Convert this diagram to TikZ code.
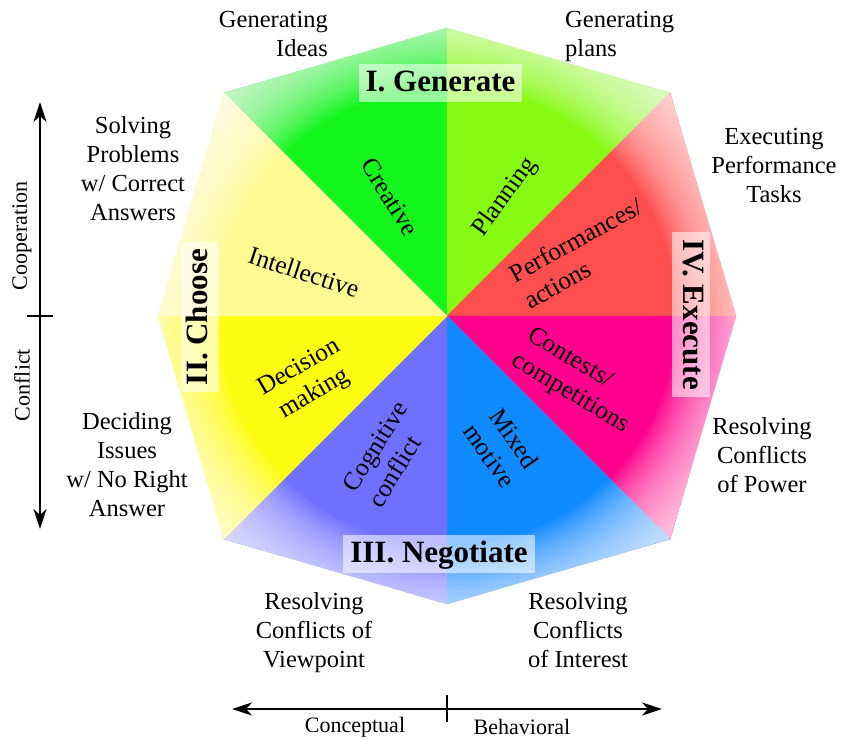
\documentclass[tikz,border=0pt]{standalone}
\usepackage{fontspec}
\setmainfont{Liberation Serif}
\usetikzlibrary{arrows.meta}

\definecolor{creativeC}{RGB}{20,245,30}
\definecolor{planningC}{RGB}{135,250,20}
\definecolor{performC}{RGB}{255,78,78}
\definecolor{contestC}{RGB}{255,0,140}
\definecolor{mixedC}{RGB}{15,138,255}
\definecolor{cognitiveC}{RGB}{112,112,255}
\definecolor{decisionC}{RGB}{255,252,20}
\definecolor{intellectC}{RGB}{255,250,145}

\begin{document}
\begin{tikzpicture}[x=1pt, y=-1pt,
  quadrant/.style={font=\fontsize{31}{36}\selectfont\bfseries, fill=white, fill opacity=0.55, text opacity=1,
    inner xsep=7pt, inner ysep=5pt, text height=22pt, text depth=6pt},
  task/.style={font=\fontsize{25.5}{30}\selectfont, inner sep=0pt},
  side/.style={font=\fontsize{24.5}{29}\selectfont, inner sep=0pt, align=center},
  axislabel/.style={font=\fontsize{22}{26}\selectfont, inner sep=0pt},
  axis/.style={line width=2.5pt, {Stealth[length=20pt, width=13pt, inset=6pt]}-{Stealth[length=20pt, width=13pt, inset=6pt]}},
  tick/.style={line width=2.5pt}]

\useasboundingbox[fill=white] (0,0) rectangle (844,741);

% corners of the octagon
\coordinate (ctr) at (447,316);
\coordinate (vE) at (736,316);
\coordinate (vNE) at (670,93);
\coordinate (vN) at (447,28);
\coordinate (vNW) at (224,93);
\coordinate (vW) at (158,316);
\coordinate (vSW) at (224,539);
\coordinate (vS) at (447,604);
\coordinate (vSE) at (670,539);

% the eight task sectors
\foreach \a/\b/\col in {vN/vNW/creativeC, vN/vNE/planningC, vNE/vE/performC, vE/vSE/contestC,
                        vSE/vS/mixedC, vS/vSW/cognitiveC, vSW/vW/decisionC, vW/vNW/intellectC} {
    \fill[\col, draw=\col, line width=0.4pt] (ctr) -- (\a) -- (\b) -- cycle;
}

% fade to white towards the rim: thin white rings stacked up
\foreach \r in {230,233,...,320} {
    \fill[white, fill opacity=0.05, even odd rule]
        (vE) -- (vNE) -- (vN) -- (vNW) -- (vW) -- (vSW) -- (vS) -- (vSE) -- cycle
        (ctr) circle (\r pt);
}

% task types
\node[task, rotate=-58] (creative) at (390,197) {Creative};
\node[task, rotate=54] (planning) at (505,197) {Planning};
\node[task, rotate=29, align=left] (perform) at (583,253) {Performances/\\actions};
\node[task, rotate=-31, align=left] (contest) at (578,381) {Contests/\\competitions};
\node[task, rotate=-55, align=center] (mixed) at (502,447) {Mixed\\motive};
\node[task, rotate=58, align=left] (cognitive) at (388,454) {Cognitive\\conflict};
\node[task, rotate=30, align=center] (decision) at (307,381) {Decision\\making};
\node[task, rotate=-18] (intellect) at (304,272) {Intellective};

% quadrants
\node[quadrant] (gen) at (440.5,83.5) {I. Generate};
\node[quadrant, rotate=90] (cho) at (199.5,317) {II. Choose};
\node[quadrant] (neg) at (439,554) {III. Negotiate};
\node[quadrant, rotate=-90] (exe) at (691,314.5) {IV. Execute};

% processes round the rim
\node[side, anchor=east, align=right] (ideas) at (328,34.5) {Generating\\Ideas};
\node[side, anchor=west, align=left] (plans) at (565,36) {Generating\\plans};
\node[side] (solving) at (133,169) {Solving\\Problems\\w/ Correct\\Answers};
\node[side] (executing) at (774,165.5) {Executing\\Performance\\Tasks};
\node[side] (deciding) at (127,464.5) {Deciding\\Issues\\w/ No Right\\Answer};
\node[side] (power) at (762,455) {Resolving\\Conflicts\\of Power};
\node[side] (viewpoint) at (314,632.5) {Resolving\\Conflicts of\\Viewpoint};
\node[side] (interest) at (578,630) {Resolving\\Conflicts\\of Interest};

% cooperation / conflict axis
\coordinate (coopEnd) at (40,102);
\coordinate (conflEnd) at (40,529);
\coordinate (vtickL) at (27,316);
\coordinate (vtickR) at (53,316);
\draw[axis] (coopEnd) -- (conflEnd);
\draw[tick] (vtickL) -- (vtickR);
\node[axislabel, rotate=90] (coop) at (22,236) {Cooperation};
\node[axislabel, rotate=90] (confl) at (22,385) {Conflict};

% conceptual / behavioral axis
\coordinate (conceptEnd) at (232,709);
\coordinate (behavEnd) at (662,709);
\coordinate (htickT) at (447,695);
\coordinate (htickB) at (447,722);
\draw[axis] (conceptEnd) -- (behavEnd);
\draw[tick] (htickT) -- (htickB);
\node[axislabel] (concept) at (355,727) {Conceptual};
\node[axislabel] (behav) at (522,727) {Behavioral};

\end{tikzpicture}
\end{document}
